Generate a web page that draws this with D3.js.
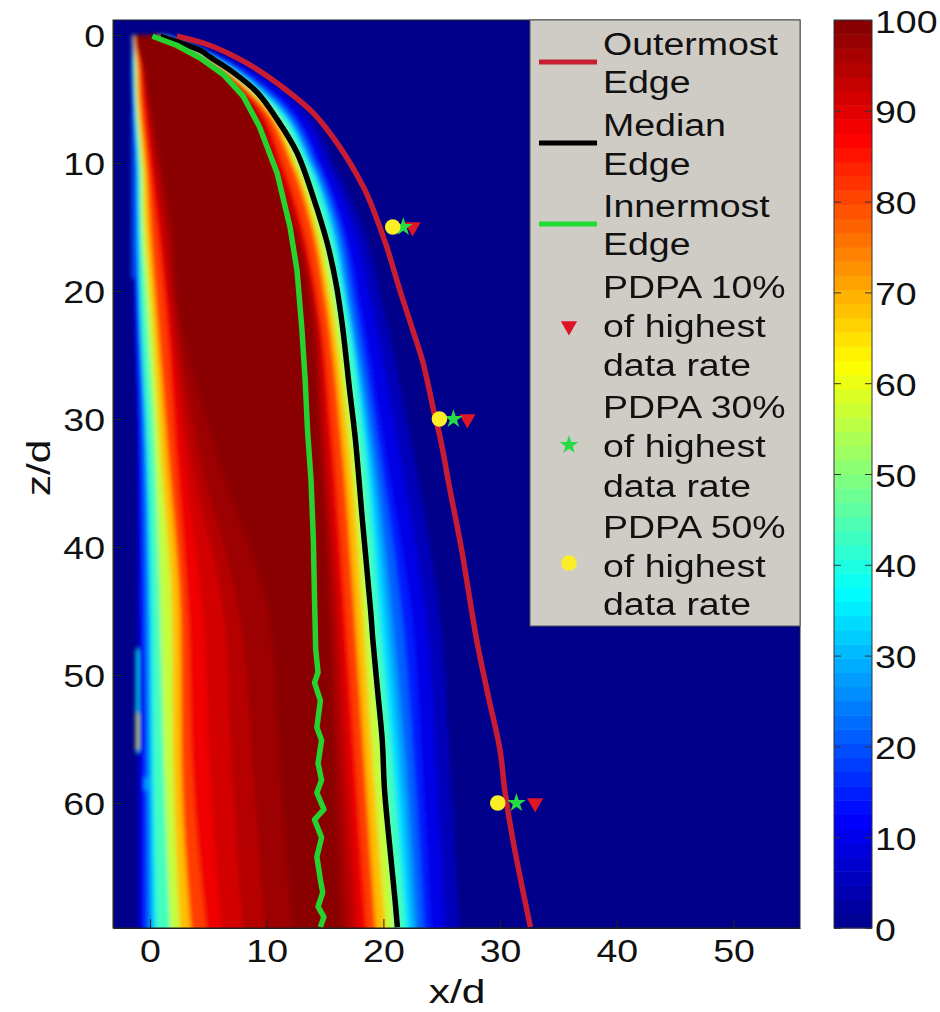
<!DOCTYPE html>
<html>
<head>
<meta charset="utf-8">
<script src="https://cdn.jsdelivr.net/npm/d3@7"></script>
<style>
body{margin:0;background:#fff;}
text{font-family:"Liberation Sans",Arial,sans-serif;fill:#111;}
</style>
</head>
<body>
<div id="chart"></div>
<script>
var w=940;
var h=1012;
var stretch=1.21;//the picture is wider than tall, so are the letters
var fontPx=31;

var xTicks=[0,10,20,30,40,50];
var zTicks=[0,10,20,30,40,50,60];
var cbarTicks=[0,10,20,30,40,50,60,70,80,90,100];

//percentage levels of the map, each one has a left and right edge at every z row
var levels=[3,7,12,18,25,31,37,50,62,75,87,90,93,96,98];
var zRows=[0,1,2,5,10.4,15,21,32.4,46,57,72];
var leftEdges=[
 [-1.5,-1.5,-1.6,-1.6,-1.5,-1.5,-1.4,-1.1,-1.1,-1.1,-1.1],
 [-1.5,-1.5,-1.55,-1.55,-1.4,-1.4,-1.3,-1,-0.9,-0.85,-0.85],
 [-1.5,-1.5,-1.5,-1.5,-1.3,-1.3,-1.2,-0.9,-0.7,-0.6,-0.6],
 [-1.5,-1.5,-1.5,-1.45,-1.2,-1.2,-1.05,-0.65,-0.45,-0.35,-0.3],
 [-1.5,-1.5,-1.5,-1.4,-1.1,-1.1,-0.9,-0.4,-0.2,-0.1,0],
 [-1.5,-1.45,-1.45,-1.35,-1.05,-1,-0.85,-0.3,0,0.1,0.3],
 [-1.5,-1.4,-1.4,-1.3,-1,-0.9,-0.8,-0.2,0.2,0.3,0.6],
 [-1.5,-1.4,-1.3,-1.2,-0.8,-0.7,-0.3,0.4,0.9,1.2,1.8],
 [-1.4,-1.3,-1.2,-1.1,-0.6,-0.4,0.1,0.9,1.9,2,2.7],
 [-1.4,-1.3,-1.1,-0.9,-0.3,0,0.5,1.5,2.6,2.7,3.7],
 [-1.3,-1.2,-0.9,-0.6,0,0.6,1.3,2.2,3.3,3.6,5.1],
 [-1.3,-1.15,-0.85,-0.45,0.2,0.85,1.55,2.8,4.6,5.1,6.3],
 [-1.3,-1.1,-0.8,-0.3,0.4,1.1,1.8,3.4,6.4,7,8.1],
 [-1.2,-1.05,-0.7,-0.2,0.7,1.5,2.1,4.2,7.8,8.8,10],
 [-1.2,-1,-0.6,-0.1,1,1.9,2.4,5.6,10.3,11.1,12.4]
];
var rightEdges=[
 [1.9,4.8,7.5,12.4,15.9,18.2,19.9,22.5,24.9,25.7,26.6],
 [1.6,4.45,6.95,11.75,15.3,17.4,18.95,21.3,23.7,24.5,25.4],
 [1.3,4.1,6.4,11.1,14.7,16.6,18,20.1,22.5,23.3,24.2],
 [1.15,3.95,6.2,10.8,14.4,16.25,17.55,19.6,21.65,22.6,23.6],
 [1,3.8,6,10.5,14.1,15.9,17.1,19.1,20.8,21.9,23],
 [0.95,3.7,5.85,10.3,13.9,15.65,16.9,18.75,20.25,21.35,22.55],
 [0.9,3.6,5.7,10.1,13.7,15.4,16.7,18.4,19.7,20.8,22.1],
 [0.7,3.3,5.4,9.6,13,14.7,16,17.7,18.9,20,21.1],
 [0.6,3.1,5.1,9.3,12.6,14.2,15.5,17.1,18.3,19.1,20.4],
 [0.5,3,5.1,9.1,12.3,13.9,15.1,16.5,17.6,18.4,19.5],
 [0.4,2.8,4.9,8.7,11.5,13.1,14.4,15.7,16.8,17.6,18.7],
 [0.35,2.75,4.8,8.55,11.25,12.9,14.25,15.4,16.45,17.15,18.15],
 [0.3,2.7,4.7,8.4,11,12.7,14.1,15.1,16.1,16.7,17.6],
 [0.25,2.65,4.6,8.1,10.6,12.5,13.9,14.8,15.7,16.2,17],
 [0.2,2.6,4.5,7.9,10.3,12.3,13.7,14.6,15.4,15.8,16.4]
];

//thin streaks on the left side of the map
var streakX=[[-1.45,-1.45],[-1.1,-1.1],[-1.1,-1.1],[-0.2,-0.2]];
var streakZ=[[6,19],[48,56],[53,55.8],[58,59]];
var streakValue=[22,38,60,28];

var outerX=[2.3,5.1,8.3,11.1,14,16.3,18.3,18.9,20.3,21.4,22.5,23.4,24.3,24.9,25.7,26.7,28,29,30,30.4,31.1,32.6];
var outerZ=[0.1,0.8,2.2,3.9,6.1,8.8,11.9,13.1,16.6,19.9,23,25.6,29.3,31.6,35.5,40.2,47.3,51.7,55.9,59,62.9,69.7];
var medianX=[0.9,4.3,5.1,7.1,9.2,10.9,12.6,14,15.2,16,16.5,17.1,17.6,18.2,18.9,19.1,19.5,19.9,20.1,20.6,21,21.2];
var medianZ=[0.1,1.2,1.7,2.9,4.5,6.6,9.2,12.7,16.3,19.7,22.8,27.7,31.6,37.9,44.9,47.3,51.2,55.1,59,63.9,67.6,69.7];
var innerX=[0.2,2.3,4.3,6.3,8,9.4,10.9,12,12.6,13,13.3,13.5,13.8,14,14.1,14.2,14.4,14.1,14.6,14.3,14.7,14.4,14.7,14.3,14.9,14.1,14.7,14.3,14.6,14.8,14.4,14.9,14.6];
var innerZ=[0.1,0.8,1.8,3.1,4.8,7.2,10.8,15,18.4,22.8,27,30.9,34.8,39.5,44.1,48,49.8,50.6,52,54.1,55.1,56.9,58.2,59.2,60.5,61.3,62.7,64.2,66,67,68.1,68.9,69.7];

var pdpaZ=[15,30,60];
var pdpa10X=[22.5,27.2,33];
var pdpa30X=[21.7,26,31.4];
var pdpa50X=[20.8,24.8,29.8];

var legendLines=["Outermost","Edge","Median","Edge","Innermost","Edge","PDPA 10%","of highest","data rate","PDPA 30%","of highest","data rate","PDPA 50%","of highest","data rate"];
var legendBase=[55,93,136,175,217,255,298,337,376,418,457,497,538,577,615];

var left=113,right=800,top_=20,bottom=928;

var xScale=d3.scaleLinear().domain([-37/11.67,650/11.67]).range([left,right]);
var zScale=d3.scaleLinear().domain([-15/12.8,893/12.8]).range([top_,bottom]);
//matlab jet
var jet=d3.scaleLinear()
 .domain([0,12,37,62,87,100])
 .range(["#00008a","#0000ff","#00ffff","#ffff00","#ff0000","#800000"]);

var svg=d3.select("#chart").append("svg").attr("width",w).attr("height",h);
var defs=svg.append("defs");
defs.append("clipPath").attr("id","plotClip").append("rect")
 .attr("x",left).attr("y",top_).attr("width",right-left).attr("height",bottom-top_);
defs.append("filter").attr("id","soft").attr("x","-5%").attr("y","-5%").attr("width","110%").attr("height","110%")
 .append("feGaussianBlur").attr("stdDeviation",2);
defs.append("filter").attr("id","softLine")
 .attr("filterUnits","userSpaceOnUse").attr("x",0).attr("y",0).attr("width",w).attr("height",h)
 .append("feGaussianBlur").attr("stdDeviation",0.5);

function drawMap(){
  var plot=svg.append("g").attr("clip-path","url(#plotClip)");
  plot.append("rect").attr("x",left).attr("y",top_).attr("width",right-left).attr("height",bottom-top_)
   .attr("fill",jet(0));
  var bands=plot.append("g").attr("filter","url(#soft)");
  levels.forEach(function(level,i){
    var next=i<levels.length-1 ? levels[i+1] : 100;
    var area=d3.area()
     .y(function(d){return zScale(d);})
     .x0(function(d,k){return xScale(leftEdges[i][k]);})
     .x1(function(d,k){return xScale(rightEdges[i][k]);})
     .curve(d3.curveMonotoneY);
    bands.append("path").datum(zRows)
     .attr("d",area)
     .attr("fill",jet((level+next)/2));
  });
  streakX.forEach(function(sx,i){
    bands.append("line")
     .attr("x1",xScale(sx[0])).attr("x2",xScale(sx[1]))
     .attr("y1",zScale(streakZ[i][0])).attr("y2",zScale(streakZ[i][1]))
     .attr("stroke",jet(streakValue[i])).attr("stroke-width",i==3?6:2.5);
  });
  return plot;
}

function drawEdge(plot,xs,zs,color,curve){
  var line=d3.line()
   .x(function(d){return xScale(d);})
   .y(function(d,i){return zScale(zs[i]);})
   .curve(curve);
  plot.append("path").datum(xs)
   .attr("d",line)
   .attr("fill","none")
   .attr("stroke",color)
   .attr("stroke-width",5.5)
   .attr("stroke-linejoin","round")
   .attr("filter","url(#softLine)");
}

function marker(g,type,x,y){
  if(type=="tri"){
    g.append("path").attr("d",d3.symbol().type(d3.symbolTriangle).size(115)())
     .attr("transform","translate("+x+","+y+") rotate(180)").attr("fill","#de1426");
  }else if(type=="star"){
    g.append("path").attr("d",d3.symbol().type(d3.symbolStar).size(110)())
     .attr("transform","translate("+x+","+y+")").attr("fill","#26dc44");
  }else{
    g.append("circle").attr("cx",x).attr("cy",y).attr("r",7.8).attr("fill","#fbee28");
  }
}

function drawPdpa(plot){
  var g=plot.append("g").attr("filter","url(#softLine)");
  pdpaZ.forEach(function(z,i){
    marker(g,"tri",xScale(pdpa10X[i]),zScale(z));
    marker(g,"star",xScale(pdpa30X[i]),zScale(z));
    marker(g,"circle",xScale(pdpa50X[i]),zScale(z));
  });
}

function stretchTicks(sel,baseY,xOff){
  sel.selectAll("text")
   .attr("dy",0)
   .attr("y",baseY)
   .attr("x",xOff/stretch)
   .attr("transform","scale("+stretch+",1)")
   .style("font-size",fontPx+"px");
}

function drawAxes(){
  var gx=svg.append("g").attr("transform","translate(0,"+bottom+")")
   .call(d3.axisBottom(xScale).tickValues(xTicks).tickSize(-9).tickSizeOuter(0).tickFormat(d3.format("d")));
  stretchTicks(gx,34,0);
  var gz=svg.append("g").attr("transform","translate("+left+",0)")
   .call(d3.axisLeft(zScale).tickValues(zTicks).tickSize(-9).tickSizeOuter(0).tickFormat(d3.format("d")));
  stretchTicks(gz,11,-8);
  svg.selectAll(".domain").attr("stroke","#222");
  svg.selectAll(".tick line").attr("stroke","#222");

  svg.append("rect").attr("x",left).attr("y",top_).attr("width",right-left).attr("height",bottom-top_)
   .attr("fill","none").attr("stroke","#222").attr("stroke-width",1);

  svg.append("text").text("x/d")
   .attr("transform","translate(457,1003) scale(1.25,1)")
   .attr("text-anchor","middle").style("font-size","34px");
  svg.append("text").text("z/d")
   .attr("transform","translate(50,468) rotate(-90) scale(1.25,1)")
   .attr("text-anchor","middle").style("font-size","34px");
}

function drawLegend(){
  var g=svg.append("g");
  g.append("rect").attr("x",530).attr("y",top_).attr("width",right-530).attr("height",606)
   .attr("fill","#cfccc6").attr("stroke","#555").attr("stroke-width",1);
  legendLines.forEach(function(t,i){
    g.append("text").text(t)
     .attr("transform","translate(603,"+legendBase[i]+") scale("+stretch+",1)")
     .style("font-size",fontPx+"px");
  });
  var lineColors=["#c81e32","#000","#22dd33"];
  var lineY=[62,143,224];
  lineColors.forEach(function(c,i){
    g.append("line").attr("x1",539).attr("x2",597).attr("y1",lineY[i]).attr("y2",lineY[i])
     .attr("stroke",c).attr("stroke-width",5);
  });
  marker(g,"tri",569,326);
  marker(g,"star",569,445);
  marker(g,"circle",569,563);
}

function drawColorbar(){
  var cbX=834,cbW=38;
  var cScale=d3.scaleLinear().domain([0,100]).range([bottom,top_]);
  var g=svg.append("g");
  var cells=d3.range(64);
  g.selectAll("rect.cell").data(cells).enter().append("rect")
   .attr("class","cell")
   .attr("x",cbX).attr("width",cbW)
   .attr("y",function(d){return cScale((d+1)*100/64);})
   .attr("height",function(d){return cScale(d*100/64)-cScale((d+1)*100/64)+0.5;})
   .attr("fill",function(d){return jet((d+0.5)*100/64);});
  g.append("rect").attr("x",cbX).attr("y",top_).attr("width",cbW).attr("height",bottom-top_)
   .attr("fill","none").attr("stroke","#333").attr("stroke-width",1);
  var ga=g.append("g").attr("transform","translate("+(cbX+cbW)+",0)")
   .call(d3.axisRight(cScale).tickValues(cbarTicks).tickSize(-7).tickSizeOuter(0).tickFormat(d3.format("d")));
  stretchTicks(ga,12,3);
  ga.selectAll("text").attr("text-anchor","start");
  ga.select(".domain").remove();
  ga.selectAll(".tick line").attr("stroke","#333");
  var gb=g.append("g").attr("transform","translate("+cbX+",0)")
   .call(d3.axisLeft(cScale).tickValues(cbarTicks).tickSize(-7).tickSizeOuter(0).tickFormat(""));
  gb.select(".domain").remove();
  gb.selectAll(".tick line").attr("stroke","#333");
}

var plot=drawMap();
drawEdge(plot,outerX,outerZ,"#c81e32",d3.curveCatmullRom);
drawEdge(plot,medianX,medianZ,"#000",d3.curveCatmullRom);
drawEdge(plot,innerX,innerZ,"#26d22e",d3.curveLinear);
drawPdpa(plot);
drawAxes();
drawLegend();
drawColorbar();
</script>
</body>
</html>
